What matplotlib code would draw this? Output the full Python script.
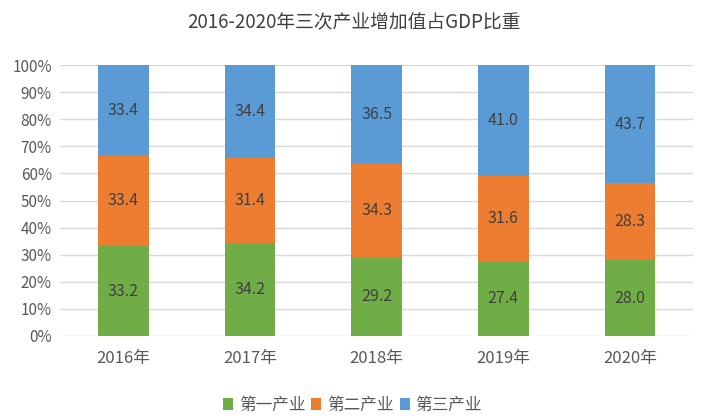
import matplotlib
matplotlib.use("Agg")
import matplotlib.pyplot as plt
import numpy as np
from matplotlib.ticker import PercentFormatter

plt.rcParams['font.family'] = ['Noto Sans CJK SC', 'DejaVu Sans']

years = ['2016年', '2017年', '2018年', '2019年', '2020年']
primary = [33.2, 34.2, 29.2, 27.4, 28.0]
secondary = [33.4, 31.4, 34.3, 31.6, 28.3]
tertiary = [33.4, 34.4, 36.5, 41.0, 43.7]
series_names = ['第一产业', '第二产业', '第三产业']
colors = ['#70AD47', '#ED7D31', '#5B9BD5']

raw = np.array([primary, secondary, tertiary])
shares = raw / raw.sum(axis=0) * 100

fig = plt.figure(figsize=(7.08, 4.2), dpi=100)
ax = fig.add_axes([0.085, 0.2, 0.894, 0.645])

x = np.arange(len(years))
bottom = np.zeros(len(years))
for vals, share, name, c in zip(raw, shares, series_names, colors):
    ax.bar(x, share, 0.4, bottom=bottom, color=c, label=name, zorder=3)
    for xi, b, s, v in zip(x, bottom, share, vals):
        ax.text(xi, b + s / 2, f'{v:.1f}', ha='center', va='center',
                fontsize=11.5, color='#404040', zorder=4)
    bottom += share

ax.set_xlim(-0.5, len(years) - 0.5)
ax.set_ylim(0, 100)
ax.set_yticks(np.arange(0, 101, 10))
ax.yaxis.set_major_formatter(PercentFormatter(decimals=0))
ax.set_xticks(x)
ax.set_xticklabels(years)
ax.grid(axis='y', color='#D9D9D9', linewidth=1, zorder=0)
for sp in ax.spines.values():
    sp.set_visible(False)
ax.tick_params(axis='y', length=0, labelsize=11, colors='#595959', pad=6)
ax.tick_params(axis='x', length=0, labelsize=12, colors='#595959', pad=10)

fig.text(0.5, 0.945, '2016-2020年三次产业增加值占GDP比重', ha='center', va='center',
         fontsize=13.5, color='#404040')

ax.legend(loc='upper center', bbox_to_anchor=(0.462, -0.17), ncol=3, frameon=False,
          fontsize=12, handlelength=0.6, handleheight=0.7, handletextpad=0.35,
          columnspacing=0.35, labelcolor='#595959')

fig.savefig('out.png', dpi=100)
